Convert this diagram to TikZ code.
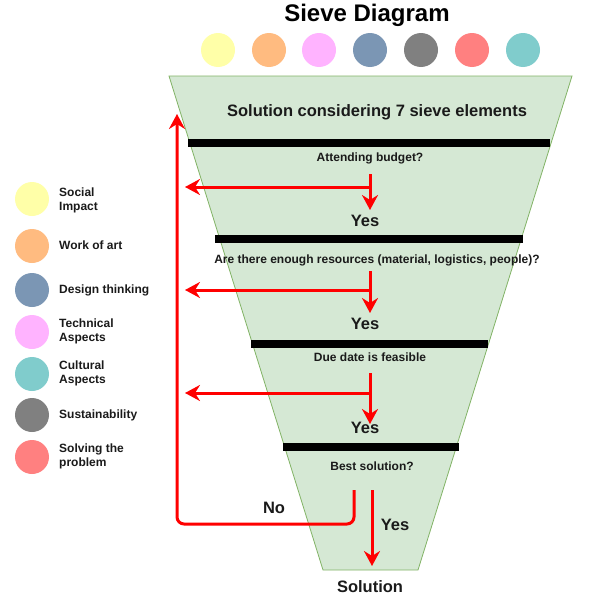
\documentclass[tikz,border=0pt]{standalone}
\usepackage{fontspec}
\setmainfont{Liberation Sans}
\usetikzlibrary{arrows.meta}
\definecolor{cyel}{HTML}{FFFFA8}
\definecolor{cora}{HTML}{FFBB80}
\definecolor{cpink}{HTML}{FFB3FF}
\definecolor{cblue}{HTML}{7B96B4}
\definecolor{cgray}{HTML}{808080}
\definecolor{cred}{HTML}{FF8080}
\definecolor{cteal}{HTML}{80CCCC}
\definecolor{funnel}{HTML}{D5E8D4}
\definecolor{funnelline}{HTML}{82B366}
\definecolor{txt}{HTML}{1A1A1A}
\begin{document}
\begin{tikzpicture}[x=1pt,y=-1pt,
  dot/.style={circle, minimum size=34pt, inner sep=0pt, draw=none},
  sievebar/.style={line width=8pt, black},
  rarrow/.style={draw=red, line width=3pt, -{Stealth[length=15pt,width=16pt,inset=5pt]}},
  q/.style={font=\bfseries\fontsize{12}{14}\selectfont, text=txt, inner sep=0pt},
  big/.style={font=\bfseries\fontsize{16.5}{19}\selectfont, text=txt, inner sep=0pt},
  leg/.style={font=\bfseries\fontsize{12}{14}\selectfont, anchor=west, align=left, text=txt, inner sep=0pt}]
\useasboundingbox (0,0) rectangle (598,613);

% title
\node[font=\bfseries\fontsize{24}{28}\selectfont, inner sep=0pt] (title) at (367,15) {Sieve Diagram};

% top circles
\node[dot, fill=cyel]  (t1) at (218,50) {};
\node[dot, fill=cora]  (t2) at (269,50) {};
\node[dot, fill=cpink] (t3) at (319,50) {};
\node[dot, fill=cblue] (t4) at (370,50) {};
\node[dot, fill=cgray] (t5) at (421,50) {};
\node[dot, fill=cred]  (t6) at (472,50) {};
\node[dot, fill=cteal] (t7) at (523,50) {};

% funnel
\draw[fill=funnel, draw=funnelline, line width=0.8pt] (169,76) -- (572,76) -- (418,570) -- (323,570) -- cycle;

% sieve bars
\draw[sievebar] (188,143) -- (550,143);
\draw[sievebar] (215,239) -- (523,239);
\draw[sievebar] (251,344) -- (488,344);
\draw[sievebar] (283,447) -- (459,447);

% texts
\node[big] (head) at (377,112) {Solution considering 7 sieve elements};
\node[q] (q1) at (370,158) {Attending budget?};
\node[big] (y1) at (365,221) {Yes};
\node[q] (q2) at (377,260) {Are there enough resources (material, logistics, people)?};
\node[big] (y2) at (365,324) {Yes};
\node[q] (q3) at (370,357) {Due date is feasible};
\node[big] (y3) at (365,428) {Yes};
\node[q] (q4) at (372,466) {Best solution?};
\node[big] (no) at (274,508) {No};
\node[big] (y4) at (395,525) {Yes};
\node[big] (sol) at (370,587) {Solution};

% arrow points
\coordinate (s1) at (370,174); \coordinate (j1) at (370,187);
\coordinate (e1) at (370,210); \coordinate (l1) at (185,187);
\coordinate (s2) at (370,271); \coordinate (j2) at (370,290);
\coordinate (e2) at (370,313); \coordinate (l2) at (185,290);
\coordinate (s3) at (370,373); \coordinate (j3) at (370,393);
\coordinate (e3) at (370,424); \coordinate (l3) at (185,393);
\coordinate (ns) at (354,490); \coordinate (nc1) at (354,524);
\coordinate (nc2) at (177,524); \coordinate (ne) at (177,114);
\coordinate (ys) at (372,490); \coordinate (ye) at (372,566);

\draw[rarrow] (s1) -- (e1);
\draw[rarrow] (j1) -- (l1);
\draw[rarrow] (s2) -- (e2);
\draw[rarrow] (j2) -- (l2);
\draw[rarrow] (s3) -- (e3);
\draw[rarrow] (j3) -- (l3);
\draw[rarrow, rounded corners=7pt] (ns) -- (nc1) -- (nc2) -- (ne);
\draw[rarrow] (ys) -- (ye);

% legend
\node[dot, fill=cyel]  (d1) at (32,199) {};
\node[dot, fill=cora]  (d2) at (32,246) {};
\node[dot, fill=cblue] (d3) at (32,290) {};
\node[dot, fill=cpink] (d4) at (32,332) {};
\node[dot, fill=cteal] (d5) at (32,374) {};
\node[dot, fill=cgray] (d6) at (32,415) {};
\node[dot, fill=cred]  (d7) at (32,457) {};
\node[leg] (g1) at (59,200) {Social\\Impact};
\node[leg] (g2) at (59,245) {Work of art};
\node[leg] (g3) at (59,290) {Design thinking};
\node[leg] (g4) at (59,331) {Technical\\Aspects};
\node[leg] (g5) at (59,373) {Cultural\\Aspects};
\node[leg] (g6) at (59,415) {Sustainability};
\node[leg] (g7) at (59,456) {Solving the\\problem};
\end{tikzpicture}
\end{document}
